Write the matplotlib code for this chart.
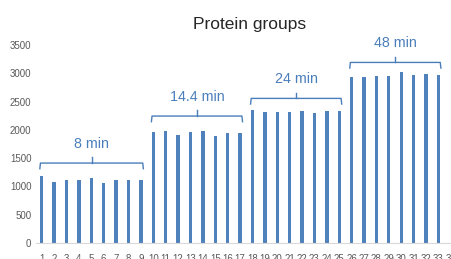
import matplotlib
matplotlib.use("Agg")
import matplotlib.pyplot as plt

# data
runs = list(range(1, 35))
groups = [1184, 1078, 1113, 1113, 1143, 1066, 1113, 1113, 1113,
          1967, 1985, 1908, 1961, 1973, 1896, 1949, 1943,
          2350, 2309, 2320, 2309, 2326, 2291, 2326, 2338,
          2938, 2927, 2944, 2950, 3021, 2968, 2986, 2968]
labels = ["8 min", "14.4 min", "24 min", "48 min"]
first_run = [1, 10, 18, 26]
last_run = [9, 17, 25, 33]
bracket_y = [1413, 2244, 2556, 3192]

blue = "#4a7ebb"
grey = "#595959"
plt.rcParams["font.family"] = ["Liberation Sans", "DejaVu Sans"]

fig = plt.figure(figsize=(4.51, 2.59), dpi=100)
ax = fig.add_axes([35.5 / 451, 16 / 259, 421.5 / 451, 198 / 259])

ax.bar(runs[:len(groups)], groups, width=0.27, color="#4f81bd", zorder=2)
ax.set_xlim(0.5, 34.5)
ax.set_ylim(0, 3500)
ax.set_xticks(runs)
ax.set_xticklabels([str(r) for r in runs])
ax.set_yticks(range(0, 3501, 500))
ax.tick_params(axis="x", length=0, pad=8, labelsize=7, colors=grey)
ax.tick_params(axis="y", length=0, pad=3, labelsize=7, colors=grey)
for s in ["left", "right", "top"]:
    ax.spines[s].set_visible(False)
ax.spines["bottom"].set_color("#d9d9d9")
ax.spines["bottom"].set_linewidth(0.8)

# curly-ish brackets over each gradient group
for lab, a, b, y in zip(labels, first_run, last_run, bracket_y):
    x0, x1 = a - 0.15, b + 0.2
    xm = (x0 + x1) / 2
    ax.plot([x0, x0 + 0.05, x1 - 0.05, x1], [y - 100, y, y, y - 100],
            color=blue, lw=1, clip_on=False, solid_joinstyle="round")
    ax.plot([xm, xm], [y, y + 100], color=blue, lw=1, clip_on=False)
    ax.text(xm, y + 340, lab, color=blue, fontsize=10.3, ha="center",
            va="center", clip_on=False)

fig.text(250 / 451, 235 / 259, "Protein groups", fontsize=12.5,
         color="#262626", ha="center", va="center")

fig.savefig("out.png", dpi=100)
